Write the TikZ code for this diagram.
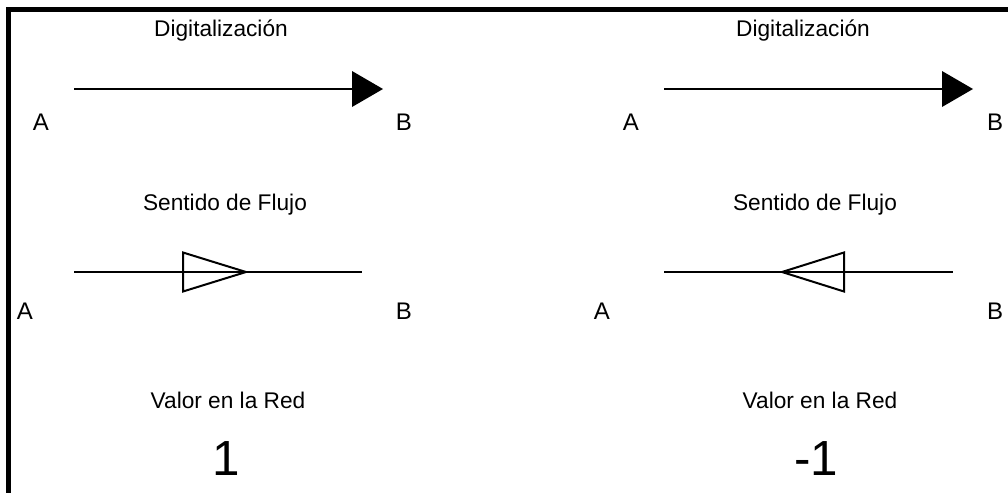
\documentclass[tikz,border=0pt]{standalone}
\usepackage{fontspec}
\setmainfont{Liberation Sans}
\begin{document}
\begin{tikzpicture}[x=0.75pt,y=-0.75pt,
  lbl/.style={font=\fontsize{17}{20}\selectfont, anchor=base, inner sep=0pt},
  endlbl/.style={font=\fontsize{18}{21}\selectfont, anchor=base, inner sep=0pt},
  big/.style={font=\fontsize{37}{44}\selectfont, anchor=base, inner sep=0pt},
  wire/.style={line width=1.2pt},
  opentri/.style={line width=1.5pt, line join=miter},
  frame/.style={line width=3.75pt}]
\useasboundingbox (0,0) rectangle (1008,493);
% frame
\coordinate (fbl) at (8.5,493);
\coordinate (ftl) at (8.5,9.5);
\coordinate (ftr) at (1008,9.5);
\draw[frame] (fbl) -- (ftl) -- (ftr);

% ---------- left panel ----------
\node[lbl] (dig1) at (221,36) {Digitalización};
\coordinate (d1s) at (74,89);
\coordinate (d1e) at (352,89);
\draw[wire] (d1s) -- (d1e);
\fill (d1e) ++(0,-18) -- ++(31,18) -- ++(-31,18) -- cycle;
\node[endlbl] (a1) at (41,130) {A};
\node[endlbl] (b1) at (404,130) {B};

\node[lbl] (sf1) at (225,210) {Sentido de Flujo};
\coordinate (f1s) at (74,272);
\coordinate (f1e) at (362,272);
\draw[wire] (f1s) -- (f1e);
\draw[opentri] (183,252.5) -- (246,272) -- (183,291.5) -- cycle;
\node[endlbl] (a2) at (25,319) {A};
\node[endlbl] (b2) at (404,319) {B};

\node[lbl] (vr1) at (228,408) {Valor en la Red};
\node[big] (v1) at (226,475) {1};

% ---------- right panel ----------
\node[lbl] (dig2) at (803,36) {Digitalización};
\coordinate (d2s) at (664,89);
\coordinate (d2e) at (942,89);
\draw[wire] (d2s) -- (d2e);
\fill (d2e) ++(0,-18) -- ++(31,18) -- ++(-31,18) -- cycle;
\node[endlbl] (a3) at (631,130) {A};
\node[endlbl] (b3) at (995,130) {B};

\node[lbl] (sf2) at (815,210) {Sentido de Flujo};
\coordinate (f2s) at (664,272);
\coordinate (f2e) at (953,272);
\draw[wire] (f2s) -- (f2e);
\draw[opentri] (844,252.5) -- (782,272) -- (844,291.5) -- cycle;
\node[endlbl] (a4) at (602,319) {A};
\node[endlbl] (b4) at (995,319) {B};

\node[lbl] (vr2) at (820,408) {Valor en la Red};
\node[big] (v2) at (816,475) {-1};
\end{tikzpicture}
\end{document}
